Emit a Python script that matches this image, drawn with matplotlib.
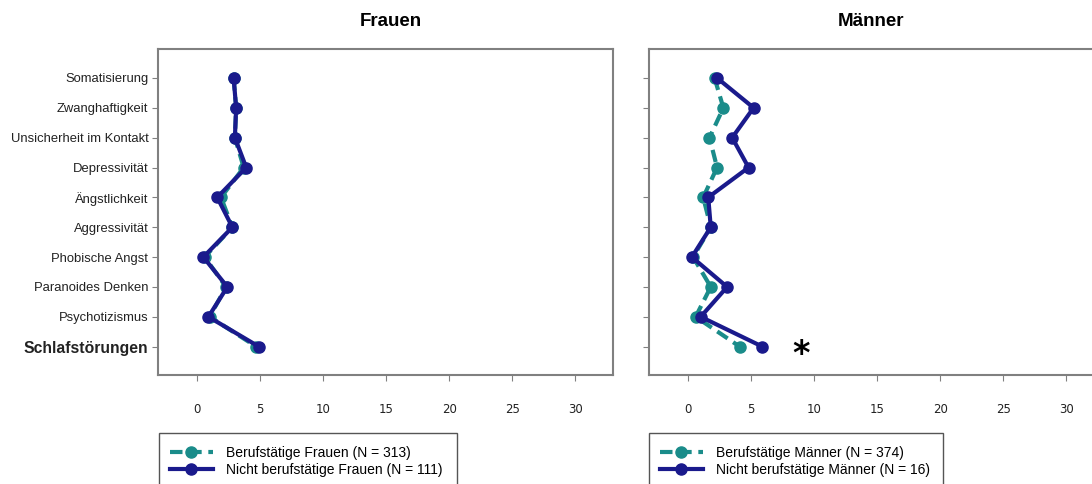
import numpy as np
import matplotlib.pyplot as plt
from matplotlib.patches import Rectangle

# Skalen (Mittelwerte)
skalen = ["Somatisierung", "Zwanghaftigkeit", "Unsicherheit im Kontakt", "Depressivität",
          "Ängstlichkeit", "Aggressivität", "Phobische Angst", "Paranoides Denken",
          "Psychotizismus", "Schlafstörungen"]

frauen_beruf = [2.9, 3.1, 3.0, 3.7, 1.9, 2.8, 0.6, 2.3, 1.0, 4.7]
frauen_nicht = [2.9, 3.1, 3.0, 3.9, 1.6, 2.8, 0.5, 2.4, 0.9, 4.9]
frauen_beruf_err = [0.1, 0.1, 0.1, 0.2, 0.1, 0.1, 0.1, 0.1, 0.1, 0.2]
frauen_nicht_err = [0.2, 0.3, 0.3, 0.4, 0.2, 0.2, 0.1, 0.2, 0.1, 0.3]

maenner_beruf = [2.1, 2.8, 1.7, 2.3, 1.2, 1.8, 0.4, 1.8, 0.6, 4.1]
maenner_nicht = [2.3, 5.2, 3.5, 4.8, 1.6, 1.8, 0.3, 3.1, 1.0, 5.9]
maenner_beruf_err = [0.1, 0.1, 0.1, 0.1, 0.1, 0.1, 0.1, 0.1, 0.1, 0.2]
maenner_nicht_err = [0.3, 0.3, 0.3, 0.3, 0.2, 0.2, 0.1, 0.2, 0.1, 0.4]

legend_frauen = ["Berufstätige Frauen (N = 313)", "Nicht berufstätige Frauen (N = 111)"]
legend_maenner = ["Berufstätige Männer (N = 374)", "Nicht berufstätige Männer (N = 16)"]

teal = "#1a8c8a"
navy = "#1a1a8c"
y = np.arange(len(skalen))

fig = plt.figure(figsize=(10.92, 4.84), dpi=100)
W, H = 1092, 484
ax1 = fig.add_axes([158 / W, 1 - 375 / H, 455 / W, 326 / H])
ax2 = fig.add_axes([649 / W, 1 - 375 / H, 455 / W, 326 / H])


def panel(ax, beruf, nicht, beruf_err, nicht_err):
    ax.errorbar(beruf, y, xerr=beruf_err, color=teal, ecolor="#8fc8c6", elinewidth=1,
                capsize=2, lw=3, ls=(0, (3, 1.6)), marker="o", ms=8, zorder=2)
    ax.errorbar(nicht, y, xerr=nicht_err, color=navy, ecolor="#9a9ad8", elinewidth=1,
                capsize=2, lw=3, ls="-", marker="o", ms=8, zorder=3)
    ax.set_xlim(-3.1, 33)
    ax.set_ylim(9.95, -0.97)
    ax.set_xticks([0, 5, 10, 15, 20, 25, 30])
    ax.set_yticks(y)
    for s in ax.spines.values():
        s.set_color("#808080")
        s.set_linewidth(1.5)
    ax.tick_params(axis="x", colors="#808080", length=4, pad=16, labelsize=8.5,
                   labelcolor="#222222")
    ax.tick_params(axis="y", colors="#808080", length=4, pad=3, labelsize=9.4,
                   labelcolor="#222222")


panel(ax1, frauen_beruf, frauen_nicht, frauen_beruf_err, frauen_nicht_err)
panel(ax2, maenner_beruf, maenner_nicht, maenner_beruf_err, maenner_nicht_err)

ax1.set_yticklabels(skalen, family="Liberation Sans")
ax1.get_yticklabels()[-1].set_fontweight("bold")
ax1.get_yticklabels()[-1].set_fontsize(11.3)
ax2.set_yticklabels([])

# Signifikanz
ax2.text(9.0, 9.25, "*", fontsize=24, fontweight="bold", ha="center", va="center")

fig.text(391 / W, 1 - 21 / H, "Frauen", fontsize=13.5, fontweight="bold",
         family="Liberation Sans", ha="center", va="center")
fig.text(871 / W, 1 - 21 / H, "Männer", fontsize=13.5, fontweight="bold",
         family="Liberation Sans", ha="center", va="center")

# Legenden
for labels, x0, x1 in [(legend_frauen, 159, 457), (legend_maenner, 649, 943)]:
    h1 = plt.Line2D([], [], color=teal, lw=3, ls=(0, (3, 1.6)), marker="o", ms=8)
    h2 = plt.Line2D([], [], color=navy, lw=3, ls="-", marker="o", ms=8)
    fig.legend([h1, h2], labels, loc="upper left", bbox_to_anchor=((x0 + 5) / W, 1 - 440 / H),
               frameon=False, handlelength=3.1, handletextpad=1.0,
               labelspacing=0.25, borderaxespad=0, prop={"family": "Liberation Sans", "size": 10})
    fig.patches.append(Rectangle((x0 / W, 1 - 500 / H), (x1 - x0) / W, 67 / H,
                                 transform=fig.transFigure, fill=False,
                                 edgecolor="#555555", lw=1))

fig.savefig("out.png", dpi=100)
